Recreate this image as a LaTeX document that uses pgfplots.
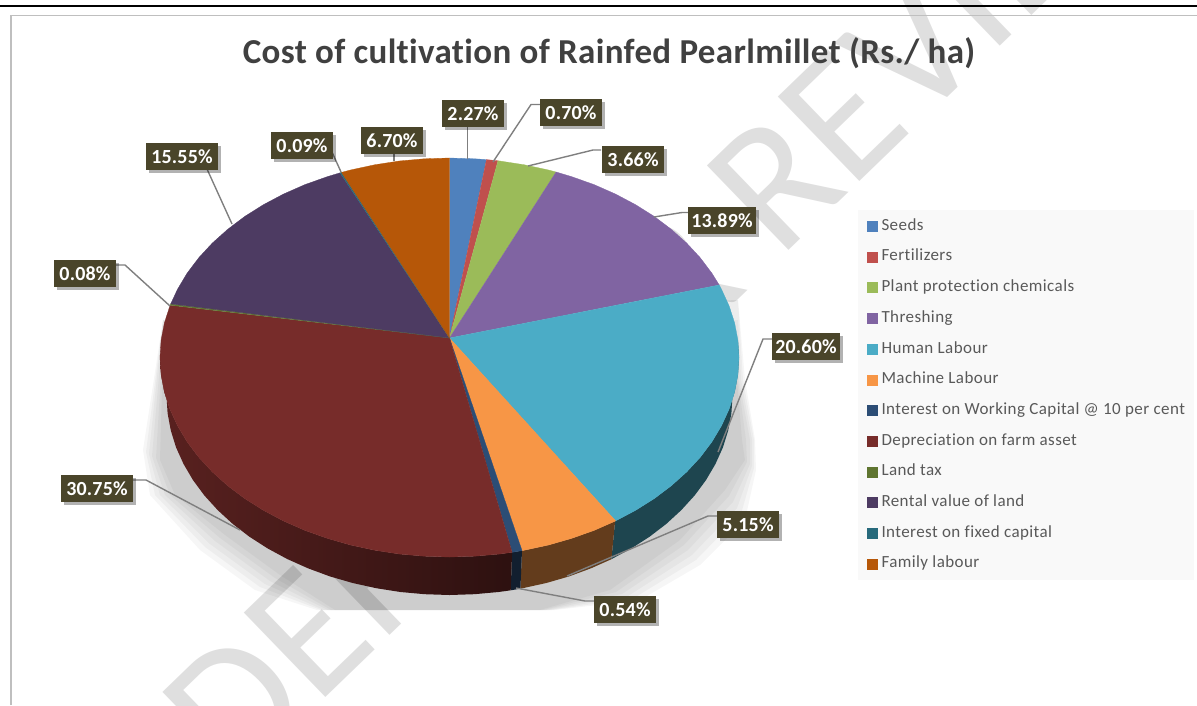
\documentclass[border=0pt]{standalone}
\usepackage{fontspec}
\setmainfont{Carlito}[Ligatures=NoCommon]
\usepackage{pgfplots}
\pgfplotsset{compat=1.18}
\usetikzlibrary{shadows}
\definecolor{cSeeds}{HTML}{4F81BD}
\definecolor{cFert}{HTML}{C0504D}
\definecolor{cPlant}{HTML}{9BBB59}
\definecolor{cThresh}{HTML}{8064A2}
\definecolor{cHuman}{HTML}{4BACC6}
\definecolor{cMach}{HTML}{F79646}
\definecolor{cIntW}{HTML}{2C4D75}
\definecolor{cDep}{HTML}{772C2A}
\definecolor{cLand}{HTML}{5F7530}
\definecolor{cRent}{HTML}{4D3B62}
\definecolor{cIntF}{HTML}{276A7C}
\definecolor{cFam}{HTML}{B65708}
\definecolor{labbox}{HTML}{4A452A}
\definecolor{leader}{HTML}{7F7F7F}
\definecolor{legbg}{HTML}{F9F9F9}
\definecolor{wmark}{HTML}{DFDFDF}
\definecolor{frame}{HTML}{BFBFBF}
\newcommand{\lab}[4]{\node[fill=labbox,text=white,inner sep=0pt,minimum width=#3pt,minimum height=27pt,
  font=\fontsize{20}{20}\bfseries\selectfont\addfontfeature{LetterSpace=1},
  general shadow={fill=black,opacity=.3,shadow xshift=2.5pt,shadow yshift=-3pt}] at (#1,#2) {#4};}
\begin{document}
\begin{tikzpicture}
\useasboundingbox (0pt,0pt) rectangle (1197pt,705pt);
\begin{axis}[at={(0pt,0pt)},anchor=south west,scale only axis,width=1197pt,height=705pt,
  xmin=0,xmax=1197,ymin=0,ymax=705,y dir=reverse,hide axis,clip=true,
  legend image code/.code={\fill[#1] (0pt,-5pt) rectangle (10pt,5pt);},
  legend cell align=left,
  legend style={at={(axis cs:858,210)},anchor=north west,draw=none,fill=legbg,
    font=\fontsize{17}{17}\selectfont\addfontfeature{LetterSpace=2.5},text=black!65,
    inner xsep=9pt,inner ysep=8pt,row sep=14.7pt,column sep=4pt,
    nodes={inner sep=0pt,text height=12pt,text depth=4pt}},
]
% watermark
\node[rotate=44,anchor=base,text=wmark,font=\fontsize{183}{183}\selectfont] at (635,399) {UNDER PEER REVIEW};
% frame
\draw[black,line width=2pt] (0,6)--(1197,6);
\draw[frame,line width=1.5pt] (11,705)--(11,15.7)--(1197,15.7);
% shadow layers
\addplot[forget plot,fill=black,fill opacity=.035,draw=none] coordinates {(163,320)(143,450)(150,495)(200,550)(255,590)(317,610)(555,610)(640,600)(700,565)(745,520)(756,470)(755,440)(745,380)(738,300)};
\addplot[forget plot,fill=black,fill opacity=.035,draw=none] coordinates {(163,320)(146,452)(155,495)(205,547)(260,587)(321,610)(552,610)(634,598)(696,560)(741,514)(754,468)(754,440)(743,380)(738,300)};
\addplot[forget plot,fill=black,fill opacity=.035,draw=none] coordinates {(163,320)(149,454)(160,495)(210,544)(265,584)(324,610)(549,610)(628,596)(692,555)(737,508)(752,466)(752,440)(741,380)(738,320)};
\addplot[forget plot,fill=black,fill opacity=.035,draw=none] coordinates {(163,330)(152,456)(165,495)(215,541)(270,581)(328,610)(546,610)(622,594)(688,550)(733,502)(750,464)(750,440)(739,380)(738,340)};
\addplot[forget plot,fill=black,fill opacity=.035,draw=none] coordinates {(163,340)(156,458)(170,495)(220,538)(275,578)(331,610)(543,610)(616,592)(684,545)(729,496)(747,462)(746,440)(738,380)};
\addplot[forget plot,fill=black,fill opacity=.035,draw=none] coordinates {(163,350)(160,460)(175,495)(225,535)(280,575)(335,610)(540,610)(610,590)(680,540)(725,490)(745,460)(742,440)(737,380)};
% side walls
\addplot[forget plot,fill=cHuman!40!black,draw=none] coordinates {(737.9,340.1)(739,357.5)(737.9,374.9)(734.6,392.1)(729.1,409.1)(721.5,425.7)(711.9,441.8)(700.2,457.3)(686.7,471.9)(671.3,485.7)(654.2,498.6)(635.6,510.3)(615.1,521.1)
 (611.4,559.2)(631.4,548.4)(649.6,536.7)(666.3,523.9)(681.3,510.1)(694.6,495.5)(706,480.1)(715.4,464.1)(722.9,447.5)(728.2,430.5)(731.4,413.4)(732.5,396)};
\addplot[forget plot,fill=cMach!40!black,draw=none] coordinates {(615.1,521.1)(594.3,530.3)(571.8,538.3)(548.5,545)(524.4,550.2)(522,550.6)
 (520.4,588.7)(546.3,583)(569.1,576.4)(591,568.3)(611.4,559.2)};
\addplot[forget plot,fill=cIntW!40!black,draw=none] coordinates {(522,550.6)(512.1,552.3)(510.7,590.3)(520.4,588.7)};
\addplot[forget plot,left color=cDep!75!black,right color=cDep!38!black,draw=none] coordinates {(512.1,552.3)(499.8,554)(474.7,556.2)(449.5,557)(424.3,556.2)(399.2,554)(374.6,550.2)(350.5,545)(327.2,538.3)(304.7,530.3)(283.4,520.9)(263.4,510.3)(244.8,498.6)(227.7,485.7)(212.3,471.9)(198.8,457.3)(187.1,441.8)(177.5,425.7)(169.9,409.1)(164.4,392.1)(161.1,374.9)(160,357.5)
 (166.5,396)(167.6,413.3)(170.8,430.5)(176.1,447.5)(183.6,464.1)(193,480.1)(204.4,495.5)(217.7,510.1)(232.7,523.9)(249.4,536.7)(267.6,548.4)(287.2,559)(308,568.3)(329.9,576.4)(352.7,583)(376.3,588.2)(400.4,592)(424.8,594.2)(449.5,595)(474.2,594.2)(498.6,592)(510.7,590.3)};
% pie top slices
\addplot[fill=cSeeds,draw=cSeeds,line width=.3pt] coordinates {(449.5,338)(449.5,158)(474.7,158.8)(486.5,159.6)};
\addlegendentry{Seeds}
\addplot[fill=cFert,draw=cFert,line width=.3pt] coordinates {(449.5,338)(486.5,159.6)(498,160.8)};
\addlegendentry{Fertilizers}
\addplot[fill=cPlant,draw=cPlant,line width=.3pt] coordinates {(449.5,338)(498,160.8)(499.8,161)(524.4,164.8)(548.5,170)(556.1,172)};
\addlegendentry{Plant protection chemicals}
\addplot[fill=cThresh,draw=cThresh,line width=.3pt] coordinates {(449.5,338)(556.1,172)(571.8,176.7)(594.3,184.7)(615.6,194.1)(635.6,204.7)(654.2,216.4)(671.3,229.3)(686.7,243.1)(700.2,257.7)(711.9,273.2)(719.2,285)};
\addlegendentry{Threshing}
\addplot[fill=cHuman,draw=cHuman,line width=.3pt] coordinates {(449.5,338)(719.2,285)(721.5,289.3)(729.1,305.9)(734.6,322.9)(737.9,340.1)(739,357.5)(737.9,374.9)(734.6,392.1)(729.1,409.1)(721.5,425.7)(711.9,441.8)(700.2,457.3)(686.7,471.9)(671.3,485.7)(654.2,498.6)(635.6,510.3)(615.6,520.9)};
\addlegendentry{Human Labour}
\addplot[fill=cMach,draw=cMach,line width=.3pt] coordinates {(449.5,338)(615.6,520.9)(594.3,530.3)(571.8,538.3)(548.5,545)(524.4,550.2)(522,550.6)};
\addlegendentry{Machine Labour}
\addplot[fill=cIntW,draw=cIntW,line width=.3pt] coordinates {(449.5,338)(522,550.6)(512.1,552.3)};
\addlegendentry{Interest on Working Capital @ 10 per cent}
\addplot[fill=cDep,draw=cDep,line width=.3pt] coordinates {(449.5,338)(512.1,552.3)(499.8,554)(474.7,556.2)(449.5,557)(424.3,556.2)(399.2,554)(374.6,550.2)(350.5,545)(327.2,538.3)(304.7,530.3)(283.4,520.9)(263.4,510.3)(244.8,498.6)(227.7,485.7)(212.3,471.9)(198.8,457.3)(187.1,441.8)(177.5,425.7)(169.9,409.1)(164.4,392.1)(161.1,374.9)(160,357.5)(161.1,340.1)(164.4,322.9)(169.9,305.9)(170.1,305.2)};
\addlegendentry{Depreciation on farm asset}
\addplot[fill=cRent,draw=cRent,line width=.3pt,forget plot] coordinates {(449.5,338)(170.7,303.9)(177.5,289.3)(187.1,273.2)(198.8,257.7)(212.3,243.1)(227.7,229.3)(244.8,216.4)(263.4,204.7)(283.4,194.1)(304.7,184.7)(327.2,176.7)(340.1,172.8)};
\addplot[fill=cLand,draw=cLand,line width=.3pt] coordinates {(449.5,338)(170.1,305.2)(170.7,303.9)};
\addlegendentry{Land tax}
\addplot[fill=cRent,draw=cRent,line width=.3pt] coordinates {(449.5,338)(170.7,303.9)(170.7,303.9)};
\addlegendentry{Rental value of land}
\addplot[fill=cFam,draw=cFam,line width=.3pt,forget plot] coordinates {(449.5,338)(341.5,172.4)(350.5,170)(374.6,164.8)(399.2,161)(424.3,158.8)(449.5,158)};
\addplot[fill=cIntF,draw=cIntF,line width=.3pt] coordinates {(449.5,338)(340.1,172.8)(341.5,172.4)};
\addlegendentry{Interest on fixed capital}
\addplot[fill=cFam,draw=cFam,line width=.3pt] coordinates {(449.5,338)(341.5,172.4)(341.5,172.4)};
\addlegendentry{Family labour}
% title
\node[anchor=base,text=black!75,font=\fontsize{35}{35}\bfseries\selectfont\addfontfeature{LetterSpace=1}] at (609,63) {Cost of cultivation of Rainfed Pearlmillet (Rs./ ha)};
% leader lines
\begin{scope}[leader,line width=1.4pt]
\draw (467.5,127)--(467.5,159);
\draw (493,162)--(531,104.5)--(541,104.5);
\draw (528,166)--(593,150)--(601,150);
\draw (654,217)--(682,212.5)--(689,212.5);
\draw (718,452)--(763,339)--(773,339);
\draw (567,576)--(708,516)--(718,516);
\draw (516,588)--(585,601)--(594,601);
\draw (170,306)--(125,265)--(115,265);
\draw (394,153)--(394,161);
\draw (332,152)--(341,172);
\draw (207,169)--(232,224);
\draw (132,480)--(146,480)--(240,530);
\end{scope}
% data labels
\lab{473}{113.5}{62}{2.27\%}
\lab{571}{112.5}{62}{0.70\%}
\lab{633}{159.5}{62}{3.66\%}
\lab{722}{220.5}{68}{13.89\%}
\lab{806}{346.5}{68}{20.60\%}
\lab{748}{524.5}{62}{5.15\%}
\lab{625}{609.5}{62}{0.54\%}
\lab{85}{273.5}{62}{0.08\%}
\lab{392}{140.5}{62}{6.70\%}
\lab{302}{145.5}{62}{0.09\%}
\lab{182}{156.5}{72}{15.55\%}
\lab{97}{488.5}{72}{30.75\%}
\end{axis}
\end{tikzpicture}
\end{document}
